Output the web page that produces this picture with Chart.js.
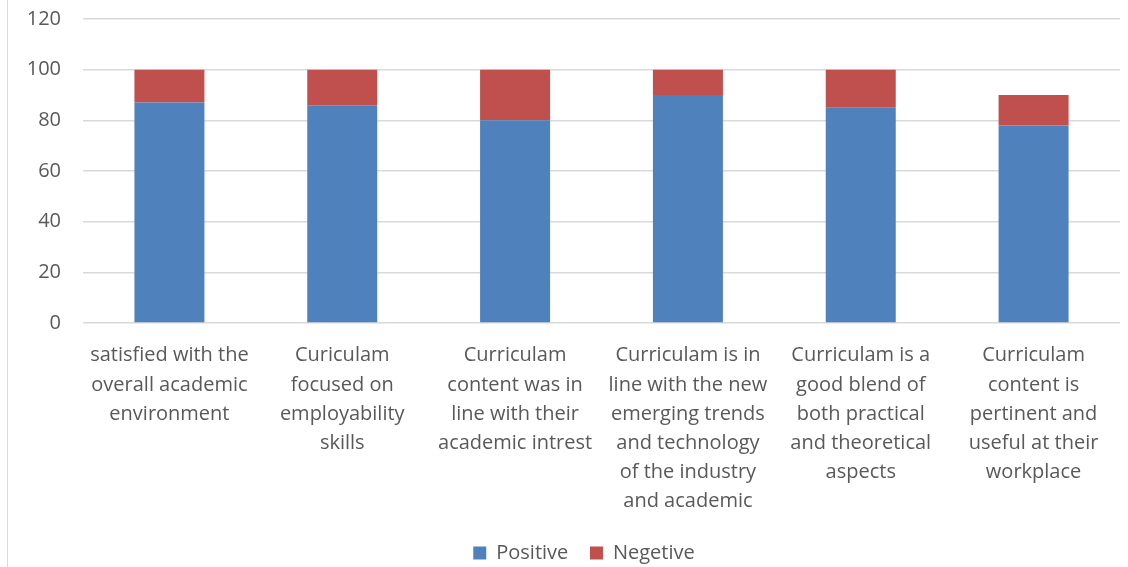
<!DOCTYPE html>
<html>
<head>
<meta charset="utf-8">
<script src="https://cdn.jsdelivr.net/npm/chart.js@4"></script>
<style>
  html, body { margin: 0; padding: 0; background: #fff; }
  #wrap { position: relative; width: 1128px; height: 567px; }
  #frame { position: absolute; left: 7px; top: 0; width: 0; height: 567px; border-left: 1px solid #d9d9d9; }
</style>
</head>
<body>
<div id="wrap">
  <div id="frame"></div>
  <canvas id="chart" width="1128" height="567"></canvas>
</div>
<script>
// Categories (split into lines as in the picture)
var categories = [
    ["satisfied with the", "overall academic", "environment"],
    ["Curiculam", "focused on", "employability", "skills"],
    ["Curriculam", "content was in", "line with their", "academic intrest"],
    ["Curriculam is in", "line with the new", "emerging trends", "and technology", "of the industry", "and academic"],
    ["Curriculam is a", "good blend of", "both practical", "and theoretical", "aspects"],
    ["Curriculam", "content is", "pertinent and", "useful at their", "workplace"]
];
var positive = [87, 86, 80, 90, 85, 78];
var negative = [13, 14, 20, 10, 15, 12];
var yTicks = [0, 20, 40, 60, 80, 100, 120];

var fontFamily = "'Open Sans', sans-serif";
var textColor = '#595959';

// nudge the legend a little to the right, as in the picture
var legendShift = {
    id: 'legendShift',
    beforeDraw: function (chart) {
        chart.legend.left = 48;
    }
};

var ctx = document.getElementById('chart').getContext('2d');
new Chart(ctx, {
    type: 'bar',
    data: {
        labels: categories,
        datasets: [{
            label: 'Positive',
            data: positive,
            backgroundColor: '#4F81BD'
        }, {
            label: 'Negetive',
            data: negative,
            backgroundColor: '#C0504D'
        }]
    },
    options: {
        responsive: false,
        animation: false,
        layout: { padding: { top: 0, right: 8, left: 0, bottom: -6 } },
        datasets: {
            bar: { barPercentage: 0.405, categoryPercentage: 1 }
        },
        scales: {
            x: {
                stacked: true,
                grid: { display: false, drawTicks: false },
                border: { display: false },
                ticks: {
                    color: textColor,
                    font: { family: fontFamily, size: 20, lineHeight: 1.46 },
                    maxRotation: 0,
                    autoSkip: false,
                    padding: 18
                },
                afterFit: function (scale) { scale.height = 215; }
            },
            y: {
                stacked: true,
                min: 0,
                max: 120,
                afterBuildTicks: function (scale) {
                    scale.ticks = yTicks.map(function (v) { return { value: v }; });
                },
                grid: { color: '#d9d9d9', lineWidth: 1.4, drawTicks: false },
                border: { display: false },
                ticks: {
                    color: textColor,
                    font: { family: fontFamily, size: 20 },
                    padding: 22
                },
                afterFit: function (scale) {
                    scale.width = 83;
                    scale.paddingTop = 19;
                    scale.paddingBottom = 0;
                }
            }
        },
        plugins: {
            tooltip: { enabled: false },
            legend: {
                position: 'bottom',
                labels: {
                    color: textColor,
                    font: { family: fontFamily, size: 20 },
                    boxWidth: 13,
                    boxHeight: 13,
                    padding: 5,
                    generateLabels: function (chart) {
                        var items = Chart.defaults.plugins.legend.labels.generateLabels(chart);
                        // widen the gap between the two legend entries
                        items[0].text = items[0].text + '\u2002\u2004';
                        return items;
                    }
                }
            }
        }
    },
    plugins: [legendShift]
});
</script>
</body>
</html>
